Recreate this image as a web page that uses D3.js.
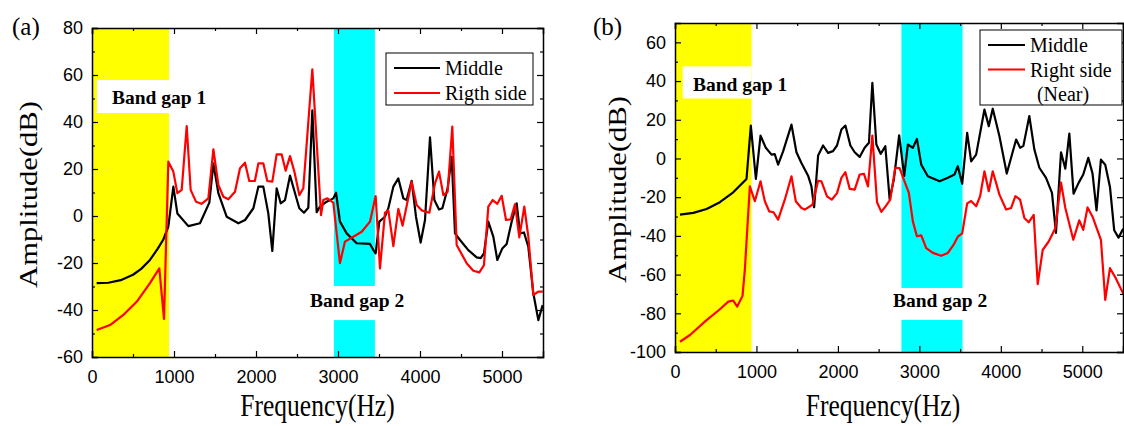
<!DOCTYPE html>
<html><head><meta charset="utf-8">
<script src="https://cdn.jsdelivr.net/npm/d3@7"></script>
<style>
body{margin:0;background:#fff;}
svg{display:block;}
</style></head>
<body><svg id="c" width="1124" height="426"></svg>
<script>
// ---------- data ----------
const xTicks = [0, 1000, 2000, 3000, 4000, 5000];
const yTicksA = [-60, -40, -20, 0, 20, 40, 60, 80];
const yTicksB = [-100, -80, -60, -40, -20, 0, 20, 40, 60];

const seriesNamesA = ["Middle", "Rigth side"];
const seriesNamesB = ["Middle", "Right side", "(Near)"];

const bandGap1A = [0, 940];
const bandGap2A = [2950, 3450];
const bandGap1B = [0, 940];
const bandGap2B = [2780, 3530];

const freqA_mid = [57,200,350,500,600,707,800,870,931,992,1041,1175,1317,1431,1480,1541,1642,1785,1867,1968,2029,2089,2150,2199,2252,2301,2354,2415,2476,2528,2585,2638,2687,2740,2780,2862,2943,2976,3024,3106,3228,3390,3431,3459,3504,3573,3614,3675,3736,3797,3837,3898,3951,4008,4061,4122,4175,4232,4273,4337,4386,4427,4488,4589,4691,4740,4780,4833,4894,4943,5004,5057,5118,5179,5220,5268,5321,5382,5443,5496];
const ampA_mid = [-28.6,-28.4,-27.3,-25,-22.5,-18.7,-14,-10,-4.5,12.5,1.1,-4.3,-3.1,5.7,22.4,9.7,-0.3,-3.1,-1.7,3.3,12.5,12.5,1.1,-14.9,11.8,5.4,6.8,17.2,9.7,3.3,1.4,3.5,45,1.6,4,6.1,7.5,9.9,-2.4,-7.4,-11.6,-11.9,-14.5,-15.9,-2.4,-0.3,3.3,12.5,16,7.5,6.8,15,-0.3,-11.3,-1.7,33.5,6.8,2.8,3.3,11.8,25.2,-7.4,-10.2,-14.5,-17.6,-17.9,-15.9,-2.4,-8.8,-18.7,-13.8,-11.9,-2.4,5.4,-7.4,-7,-13.1,-32.9,-44.3,-37.9];

const freqA_side = [57,220,382,545,707,821,878,931,992,1041,1094,1155,1203,1268,1336,1419,1480,1541,1602,1663,1744,1805,1866,1918,1986,2029,2089,2138,2199,2252,2313,2362,2415,2468,2528,2577,2687,2793,2821,2870,2943,3024,3085,3187,3289,3390,3459,3512,3573,3614,3675,3736,3788,3898,3959,4020,4114,4183,4232,4285,4337,4394,4447,4569,4650,4724,4780,4833,4886,4943,4996,5049,5106,5159,5211,5272,5321,5382,5443,5496];
const ampA_side = [-48.5,-46.4,-42.1,-36.5,-28.6,-22.3,-43.8,23.1,18.9,9.7,11.1,38.3,11.1,6.1,5.2,7.5,28.4,13.2,8.2,7.1,10.3,20.3,22.7,14.9,14.9,22.4,22.4,14.9,14.6,26.2,26.2,19.3,25.5,18.9,8.9,11.8,62.4,0.4,6.8,7.5,5.7,-20.1,-10.9,-8.8,-6.7,-2.4,8.5,-22.3,1.4,2.4,-12.8,3,-4.1,14.6,4.7,2.4,1.4,13.9,18.9,8.9,10.3,38,-12.3,-20.1,-23.3,-24,-20.9,4,6.8,5.2,8.6,-1.7,-1.4,5.1,-9.1,4,-8.8,-33.6,-32.2,-32.2];

const freqB_mid = [61,225,388,551,715,878,931,993,1050,1115,1185,1225,1266,1327,1430,1491,1552,1634,1675,1708,1757,1818,1879,1940,1989,2043,2092,2153,2206,2267,2328,2381,2423,2472,2525,2582,2635,2688,2752,2814,2859,2920,2970,3023,3104,3248,3350,3431,3472,3526,3587,3636,3697,3799,3852,3901,3983,4073,4188,4237,4277,4350,4412,4473,4555,4628,4677,4739,4792,4841,4893,4955,5012,5074,5126,5175,5229,5282,5340,5392,5445,5502];
const ampB_mid = [-29,-28.1,-26.1,-22.6,-17.5,-10.6,17,-10.6,11.8,5.5,2,2.2,-3.2,3.7,17.5,3.2,-2.3,-8.9,-14.4,-25.2,1.5,6.7,2.9,3.8,6.7,15,17,6.7,3.2,0.8,5.5,8.1,39.1,7.2,2.4,6.3,-21,-10.6,12,-9,7.2,5.5,10.1,-3.2,-9.2,-11.8,-10,-8.3,-4,-13,13.2,-1.5,2,25.3,16.7,25.7,11.5,-7.8,9.8,5.5,6.5,21.9,4.6,-4.8,-10,-17.8,-38.5,3.2,-5.3,12.8,-18.2,-12.6,-8.3,0.3,-7.8,-26.8,-0.6,-3.2,-14.7,-37.1,-40.9,-36.3];

const freqB_side = [61,184,388,551,654,715,764,829,858,919,980,1050,1103,1156,1210,1266,1348,1430,1483,1552,1593,1687,1757,1798,1866,1924,1989,2043,2092,2145,2206,2267,2320,2369,2423,2480,2533,2587,2643,2704,2757,2819,2871,2920,2970,3023,3084,3166,3268,3350,3419,3472,3526,3587,3636,3697,3746,3799,3852,3901,3983,4065,4126,4179,4237,4289,4342,4404,4453,4514,4588,4669,4739,4792,4890,4963,5012,5065,5126,5229,5282,5340,5404,5502];
const ampB_side = [-94.7,-91.2,-83.5,-77.9,-74,-73.4,-76.5,-71,-57.1,-14.4,-22.1,-11.8,-22.1,-27.3,-27.8,-31.6,-21.3,-9.2,-22.1,-25.6,-26.4,-23.9,-11.5,-11.8,-19.6,-21.3,-17.9,-10,-7.1,-15.7,-16.1,-8.3,-8,-14.4,11.8,-22.6,-27.6,-24.6,-21.3,-4.8,-5,-12,-17.8,-32.5,-40.2,-39.7,-46.3,-48.8,-50.3,-48.8,-44.7,-40.4,-38.7,-23.2,-22,-24.7,-19.5,-6.6,-16.9,-6.6,-18.7,-26.4,-25.6,-19.5,-21.3,-30.8,-33,-29.2,-64.9,-47.3,-42.9,-36,-12.4,-25.6,-42,-32,-36.9,-25.3,-30.1,-42,-73.1,-56.7,-61.3,-69.8];

// ---------- drawing ----------
const svg = d3.select("#c");
const serif = "'Liberation Serif','Times New Roman',serif";
const sans = "'Liberation Sans',Arial,sans-serif";

function panel(cfg){
  const x = d3.scaleLinear().domain([0,5500]).range([cfg.left, cfg.right]);
  const y = d3.scaleLinear().domain(cfg.yDomain).range([cfg.bottom, cfg.top]);
  const g = svg.append("g");
  const clipId = "clip" + cfg.id;
  svg.append("clipPath").attr("id", clipId).append("rect")
    .attr("x", cfg.left).attr("y", cfg.top)
    .attr("width", cfg.right-cfg.left).attr("height", cfg.bottom-cfg.top);

  // band gaps
  g.append("rect").attr("x", x(cfg.gap1[0])).attr("width", x(cfg.gap1[1])-x(cfg.gap1[0]))
    .attr("y", cfg.top).attr("height", cfg.bottom-cfg.top).attr("fill", "#ffff00");
  g.append("rect").attr("x", x(cfg.gap2[0])).attr("width", x(cfg.gap2[1])-x(cfg.gap2[0]))
    .attr("y", cfg.top).attr("height", cfg.bottom-cfg.top).attr("fill", "#00ffff");
  // white label boxes
  g.append("rect").attr("x", x(cfg.lab1Box[0])).attr("width", x(cfg.lab1Box[1])-x(cfg.lab1Box[0]))
    .attr("y", y(cfg.lab1Box[3])).attr("height", y(cfg.lab1Box[2])-y(cfg.lab1Box[3])).attr("fill", "#fff");
  g.append("rect").attr("x", x(cfg.gap2[0])-1).attr("width", x(cfg.gap2[1])-x(cfg.gap2[0])+2)
    .attr("y", y(cfg.lab2Box[1])).attr("height", y(cfg.lab2Box[0])-y(cfg.lab2Box[1])).attr("fill", "#fff");

  g.append("text").attr("x", cfg.lab1Pos[0]).attr("y", cfg.lab1Pos[1])
    .attr("font-family", serif).attr("font-weight", "bold").attr("font-size", 19.5).text("Band gap 1");
  g.append("text").attr("x", cfg.lab2Pos[0]).attr("y", cfg.lab2Pos[1])
    .attr("font-family", serif).attr("font-weight", "bold").attr("font-size", 19.5).text("Band gap 2");

  // lines
  const line = d3.line().x(d=>x(d[0])).y(d=>y(d[1]));
  const lg = g.append("g").attr("clip-path", `url(#${clipId})`);
  lg.append("path").datum(d3.zip(cfg.f1, cfg.v1)).attr("d", line)
    .attr("fill","none").attr("stroke","#000").attr("stroke-width",2.2).attr("stroke-linejoin","round");
  lg.append("path").datum(d3.zip(cfg.f2, cfg.v2)).attr("d", line)
    .attr("fill","none").attr("stroke","#ff0000").attr("stroke-width",2.2).attr("stroke-linejoin","round");

  // axes (ticks inward, mirrored)
  const minorX = d3.range(500, 5500, 1000);
  const yMinor = d3.range(cfg.yDomain[0]+10, cfg.yDomain[1], 20);
  function styleAxis(a){
    a.select(".domain").attr("stroke","#000").attr("stroke-width",1.5);
    a.selectAll(".tick line").attr("stroke","#000").attr("stroke-width",1.2);
    a.selectAll("text").attr("font-family", sans).attr("font-size", 18).attr("fill","#000");
  }
  function minor(a){ a.select(".domain").remove(); a.selectAll("line").attr("stroke","#000").attr("stroke-width",1.2); }
  const ab = g.append("g").attr("transform",`translate(0,${cfg.bottom})`)
    .call(d3.axisBottom(x).tickValues(xTicks).tickSize(-6).tickPadding(13).tickFormat(d3.format("d")));
  styleAxis(ab);
  g.append("g").attr("transform",`translate(0,${cfg.bottom})`)
    .call(d3.axisBottom(x).tickValues(minorX).tickSize(-3).tickFormat("")).call(minor);
  const at = g.append("g").attr("transform",`translate(0,${cfg.top})`)
    .call(d3.axisTop(x).tickValues(xTicks).tickSize(-6).tickFormat(""));
  styleAxis(at);
  g.append("g").attr("transform",`translate(0,${cfg.top})`)
    .call(d3.axisTop(x).tickValues(minorX).tickSize(-3).tickFormat("")).call(minor);
  const al = g.append("g").attr("transform",`translate(${cfg.left},0)`)
    .call(d3.axisLeft(y).tickValues(cfg.yTicks).tickSize(-6).tickPadding(9).tickFormat(d3.format("d")));
  styleAxis(al);
  al.selectAll("text").text(d=>String(d));
  g.append("g").attr("transform",`translate(${cfg.left},0)`)
    .call(d3.axisLeft(y).tickValues(yMinor).tickSize(-3).tickFormat("")).call(minor);
  const ar = g.append("g").attr("transform",`translate(${cfg.right},0)`)
    .call(d3.axisRight(y).tickValues(cfg.yTicks).tickSize(-6).tickFormat(""));
  styleAxis(ar);
  g.append("g").attr("transform",`translate(${cfg.right},0)`)
    .call(d3.axisRight(y).tickValues(yMinor).tickSize(-3).tickFormat("")).call(minor);

  // axis titles (slightly tall glyphs, like the reference)
  g.append("text").attr("transform",`translate(${cfg.yTitleX},${(cfg.top+cfg.bottom)/2 + 2}) rotate(-90) scale(1.2,1)`)
    .attr("text-anchor","middle").attr("font-family", serif).attr("font-size", 25.5).text("Amplitude(dB)");
  g.append("text").attr("transform",`translate(${(cfg.left+cfg.right)/2 + cfg.xTitleDx},416) scale(1,1.2)`)
    .attr("text-anchor","middle").attr("font-family", serif).attr("font-size", 25.5).text("Frequency(Hz)");
  g.append("text").attr("x", cfg.panelLabel[1]).attr("y", 35)
    .attr("font-family", serif).attr("font-size", 25).text(cfg.panelLabel[0]);

  // legend
  const L = cfg.legend;
  g.append("rect").attr("x", L.x).attr("y", L.y).attr("width", L.w).attr("height", L.h)
    .attr("fill","#fff").attr("stroke","#000").attr("stroke-width",1);
  L.rows.forEach((r,i)=>{
    const yy = L.y + 15 + i*L.dy;
    if (r.color) g.append("line").attr("x1", L.x+8).attr("x2", L.x+8+L.lw).attr("y1", yy).attr("y2", yy)
      .attr("stroke", r.color).attr("stroke-width", 2.2);
    g.append("text").attr("x", r.color ? L.x+13+L.lw : r.cx).attr("y", yy+7)
      .attr("text-anchor", r.color ? "start" : "middle")
      .attr("font-family", serif).attr("font-size", 20).text(r.name);
  });
}

panel({
  id:"a", left:92, right:543, top:28, bottom:357, yDomain:[-60,80], yTicks:yTicksA,
  gap1:bandGap1A, gap2:bandGap2A,
  lab1Box:[60, 940, 43.8, 57.9], lab2Box:[-44.3, -29.8],
  lab1Pos:[112,104], lab2Pos:[310,307],
  f1:freqA_mid, v1:ampA_mid, f2:freqA_side, v2:ampA_side,
  yTitleX:37, xTitleDx:0, panelLabel:["(a)",12],
  legend:{x:386, y:53, w:147, h:52, lw:46, dy:25,
    rows:[{name:seriesNamesA[0], color:"#000"},{name:seriesNamesA[1], color:"#ff0000"}]}
});
panel({
  id:"b", left:675, right:1123, top:23, bottom:352, yDomain:[-100,70], yTicks:yTicksB,
  gap1:bandGap1B, gap2:bandGap2B,
  lab1Box:[95, 940, 31, 47.6], lab2Box:[-83.4, -66.9],
  lab1Pos:[693,91], lab2Pos:[893,307],
  f1:freqB_mid, v1:ampB_mid, f2:freqB_side, v2:ampB_side,
  yTitleX:626, xTitleDx:-16, panelLabel:["(b)",593],
  legend:{x:980, y:30, w:142, h:75, lw:37, dy:24.5,
    rows:[{name:seriesNamesB[0], color:"#000"},{name:seriesNamesB[1], color:"#ff0000"},{name:seriesNamesB[2], cx:1063}]}
});
</script></body></html>
